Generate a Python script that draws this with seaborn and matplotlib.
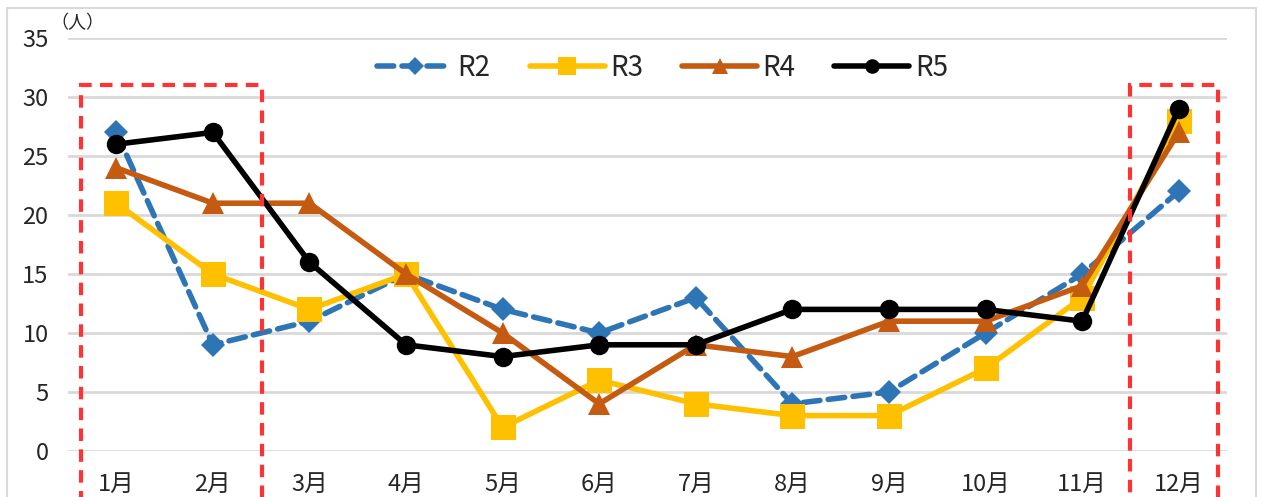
import pandas as pd
import seaborn as sns
import matplotlib.pyplot as plt
from matplotlib.patches import Rectangle

months = ["1月", "2月", "3月", "4月", "5月", "6月", "7月", "8月", "9月", "10月", "11月", "12月"]
r2 = [27, 9, 11, 15, 12, 10, 13, 4, 5, 10, 15, 22]
r3 = [21, 15, 12, 15, 2, 6, 4, 3, 3, 7, 13, 28]
r4 = [24, 21, 21, 15, 10, 4, 9, 8, 11, 11, 14, 27]
r5 = [26, 27, 16, 9, 8, 9, 9, 12, 12, 12, 11, 29]
y_ticks = [0, 5, 10, 15, 20, 25, 30, 35]

sns.set_style("white")
plt.rcParams["font.family"] = ["Noto Sans CJK JP", "DejaVu Sans"]

styles = [
    ("R2", r2, "#2e75b6", "D", 12, (3, 1.5)),
    ("R3", r3, "#ffc000", "s", 18, None),
    ("R4", r4, "#c55a11", "^", 16, None),
    ("R5", r5, "#000000", "o", 14, None),
]

fig = plt.figure(figsize=(12.61, 4.97), dpi=100)
ax = fig.add_axes([68 / 1261, 1 - 451 / 497, (1227 - 68) / 1261, (451 - 38) / 497])

# outer chart frame
fig.patches.append(Rectangle((7 / 1261, -0.1), (1256 - 7) / 1261, 1.1 - 8 / 497,
                             transform=fig.transFigure, fill=False,
                             edgecolor="#d9d9d9", linewidth=1.5))

for label, vals, color, marker, ms, dash in styles:
    df = pd.DataFrame({"month": months, "value": vals})
    sns.lineplot(data=df, x="month", y="value", ax=ax, color=color, linewidth=4,
                 marker=marker, markersize=ms, markeredgewidth=0, label=label,
                 sort=False, zorder=3)
    if dash is not None:
        ax.lines[-1].set_dashes(dash)
        ax.lines[-1].set_dash_capstyle("round")

ax.set_ylim(0, 35)
ax.set_xlim(-0.5, 11.5)
ax.set_yticks(y_ticks)
ax.grid(axis="y", color="#d9d9d9", linewidth=2)
ax.set_axisbelow(True)
for s in ax.spines.values():
    s.set_visible(False)
ax.tick_params(axis="both", length=0, labelsize=17)
ax.tick_params(axis="x", pad=16)
ax.tick_params(axis="y", pad=14)
ax.set_xlabel("")
ax.set_ylabel("")

ax.text(-0.015, 1.035, "（人）", transform=ax.transAxes, fontsize=13, ha="left", va="center")

# highlight boxes
for x0, x1 in [(-0.365, 1.51), (10.5, 11.41)]:
    ax.add_patch(Rectangle((x0, -8), x1 - x0, 31 + 8, fill=False, edgecolor="#ff3333",
                           linewidth=3, linestyle=(0, (3, 2)), clip_on=False, zorder=5))

ax.legend(loc="center", bbox_to_anchor=(0.513, 0.927), ncol=4, frameon=False,
          fontsize=20, handlelength=2.7, handletextpad=0.2, columnspacing=1.4,
          markerscale=0.75)

fig.savefig("out.png", dpi=100)
